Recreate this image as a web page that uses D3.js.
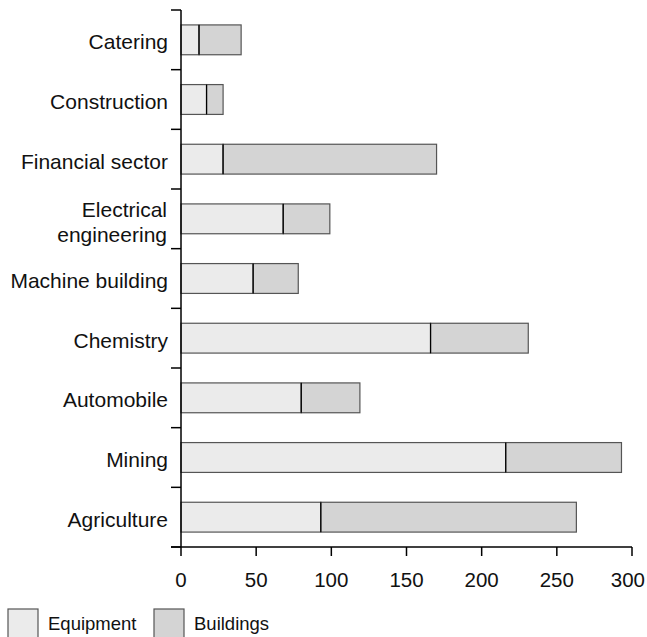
<!DOCTYPE html>
<html><head><meta charset="utf-8">
<script src="https://cdn.jsdelivr.net/npm/d3@7"></script>
<style>body{margin:0;background:#fff}svg{display:block}</style>
</head><body>
<svg id="c" width="647" height="637"></svg>
<script>
const categories = ["Catering","Construction","Financial sector","Electrical engineering","Machine building","Chemistry","Automobile","Mining","Agriculture"];
const equipment = [12, 17, 28, 68, 48, 166, 80, 216, 93];
const buildings = [28, 11, 142, 31, 30, 65, 39, 77, 170];
const xTicks = [0, 50, 100, 150, 200, 250, 300];
const seriesNames = ["Equipment", "Buildings"];
const colors = ["#ebebeb", "#d4d4d4"];

const svg = d3.select("#c");
const font = "'Liberation Sans', Arial, Helvetica, sans-serif";
const x = d3.scaleLinear().domain([0, 300]).range([181, 632]);
const y = d3.scaleBand().domain(categories).range([10, 547]).paddingInner(0.5).paddingOuter(0.25);
const yB = d3.scaleBand().domain(categories).range([10, 547]);

const rows = categories.map((c, i) => ({c, eq: equipment[i], b: buildings[i]}));
const g = svg.append("g");
rows.forEach(r => {
  g.append("rect").attr("x", x(0)).attr("y", y(r.c)).attr("width", x(r.eq) - x(0)).attr("height", y.bandwidth())
    .attr("fill", colors[0]).attr("stroke", "#555").attr("stroke-width", 1.2);
  g.append("rect").attr("x", x(r.eq)).attr("y", y(r.c)).attr("width", x(r.eq + r.b) - x(r.eq)).attr("height", y.bandwidth())
    .attr("fill", colors[1]).attr("stroke", "#555").attr("stroke-width", 1.2);
  g.append("line").attr("x1", x(r.eq)).attr("x2", x(r.eq)).attr("y1", y(r.c)).attr("y2", y(r.c) + y.bandwidth())
    .attr("stroke", "#000").attr("stroke-width", 1.2);
});

// y axis line and boundary ticks
svg.append("line").attr("x1", 181).attr("x2", 181).attr("y1", 10).attr("y2", 547).attr("stroke", "#000").attr("stroke-width", 1.5);
const bounds = categories.map(c => yB(c)).concat([547]);
svg.selectAll(".yt").data(bounds).enter().append("line")
  .attr("x1", 171).attr("x2", 181).attr("y1", d => d).attr("y2", d => d).attr("stroke", "#000").attr("stroke-width", 1.5);

// x axis
svg.append("line").attr("x1", 171).attr("x2", 632).attr("y1", 547).attr("y2", 547).attr("stroke", "#000").attr("stroke-width", 1.5);
svg.selectAll(".xt").data(xTicks).enter().append("line")
  .attr("x1", d => x(d)).attr("x2", d => x(d)).attr("y1", 547).attr("y2", 556).attr("stroke", "#000").attr("stroke-width", 1.5);
svg.selectAll(".xl").data(xTicks).enter().append("text")
  .attr("x", d => d === 300 ? 645 : x(d)).attr("y", 587).attr("text-anchor", d => d === 300 ? "end" : "middle")
  .attr("font-family", font).attr("font-size", 20.5).attr("fill", "#111").text(d => d);

// category labels
categories.forEach(c => {
  const cy = yB(c) + yB.bandwidth() / 2;
  const t = svg.append("text").attr("text-anchor", "end").attr("font-family", font).attr("font-size", 21).attr("fill", "#111");
  if (c === "Electrical engineering") {
    t.append("tspan").attr("x", 167).attr("y", cy - 2).text("Electrical");
    t.append("tspan").attr("x", 167).attr("y", cy + 23).text("engineering");
  } else {
    t.attr("x", 168).attr("y", cy + 9.5).text(c);
  }
});

// legend
const lx = [8, 154];
seriesNames.forEach((s, i) => {
  svg.append("rect").attr("x", lx[i]).attr("y", 609).attr("width", 30).attr("height", 34)
    .attr("fill", colors[i]).attr("stroke", "#555").attr("stroke-width", 1.2);
  svg.append("text").attr("x", lx[i] + 40).attr("y", 630).attr("font-family", font).attr("font-size", 18.5).attr("fill", "#111").text(s);
});
</script>
</body></html>
